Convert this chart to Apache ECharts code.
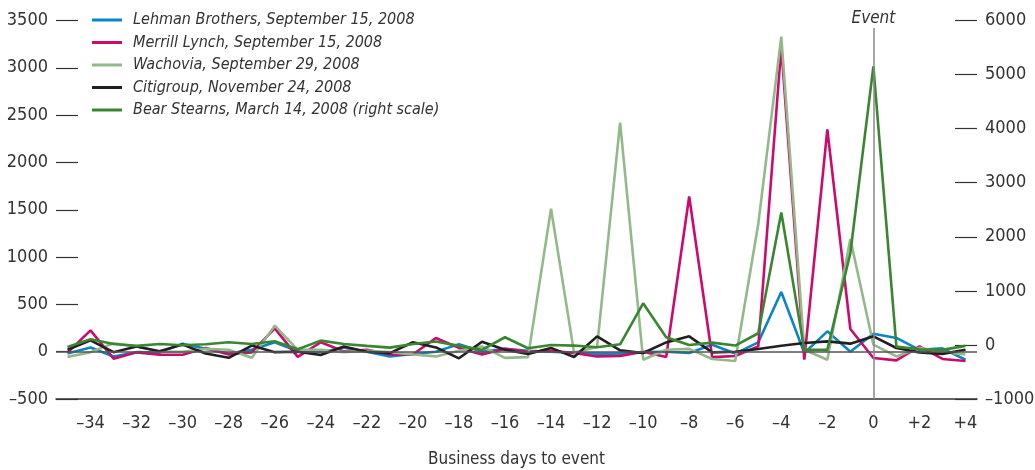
<!DOCTYPE html>
<html lang="en">
<head>
    <meta charset="UTF-8">
    <title>Business days to event</title>
    <style>
        html, body { margin: 0; padding: 0; background: #fff; }
        #main { width: 1035px; height: 470px; }
    </style>
</head>
<body>
<div id="main"></div>
<script src="https://cdn.jsdelivr.net/npm/echarts@6/dist/echarts.min.js"></script>
<script>
    // business days -35 .. +4
    var days = ['–35', '–34', '–33', '–32', '–31', '–30', '–29', '–28', '–27', '–26',
        '–25', '–24', '–23', '–22', '–21', '–20', '–19', '–18', '–17', '–16',
        '–15', '–14', '–13', '–12', '–11', '–10', '–9', '–8', '–7', '–6',
        '–5', '–4', '–3', '–2', '–1', '0', '+1', '+2', '+3', '+4'];

    var lehman = [-20, 45, -50, -5, -10, 85, 30, -20, 20, 100,
        5, -5, 45, 0, -50, -25, 0, 80, 0, 30,
        10, 0, -14, -20, -20, -5, 0, -14, 74, -20,
        98, 630, -14, 215, 0, 190, 145, 20, 35, -85];

    var merrill = [-10, 225, -75, -7, -32, -32, 40, -30, -7, 247,
        -55, 100, 3, 20, -30, -30, 145, 40, -30, 30,
        0, 10, -14, -50, -45, 0, -57, 1640, -57, -45,
        56, 3220, -85, 2350, 240, -67, -92, 56, -77, -98];

    var wachovia = [-55, -5, 90, 55, 0, 0, 30, 20, -65, 275,
        20, 20, -5, 10, -5, -30, -50, 10, 55, -65,
        -57, 1510, -10, 50, 2420, -85, 20, 30, -77, -98,
        1350, 3330, 20, -85, 1190, 74, -50, 40, 0, -30];

    var citigroup = [20, 120, -5, 55, 5, 75, -20, -65, 65, -5,
        0, -35, 55, 0, -15, 100, 45, -70, 105, 20,
        -25, 40, -57, 162, 14, -14, 98, 162, -7, 0,
        28, 63, 92, 109, 85, 162, 39, -7, -23, 20];

    // right scale
    var bearStearns = [-40, 105, 18, -18, 18, -6, 12, 50, 18, 68,
        -80, 80, 18, -18, -50, 18, 62, -18, -92, 142,
        -62, 0, -12, -43, 12, 770, 142, 0, 43, -12,
        216, 2450, -92, -92, 1700, 5150, -31, -80, -92, -18];

    var names = [
        'Lehman Brothers, September 15, 2008',
        'Merrill Lynch, September 15, 2008',
        'Wachovia, September 29, 2008',
        'Citigroup, November 24, 2008',
        'Bear Stearns, March 14, 2008 (right scale)'
    ];
    var colors = ['#0a86c8', '#cc0a6e', '#93b98a', '#231f20', '#3a8630'];

    var eventDay = '0';
    var eventTop = 3420;

    var font = "'Liberation Sans Narrow', 'Arial Narrow', 'DejaVu Sans Condensed', sans-serif";

    function fmt(v) {
        return v < 0 ? '–' + Math.abs(v) : String(v);
    }

    function lineSeries(i, data, yIndex) {
        return {
            name: names[i],
            type: 'line',
            data: data,
            yAxisIndex: yIndex,
            symbol: 'none',
            smooth: false,
            lineStyle: { color: colors[i], width: 2.6 },
            itemStyle: { color: colors[i] }
        };
    }

    var myChart = echarts.init(document.getElementById('main'));

    var series = [
        lineSeries(0, lehman, 0),
        lineSeries(1, merrill, 0),
        lineSeries(2, wachovia, 0),
        lineSeries(3, citigroup, 0),
        lineSeries(4, bearStearns, 1)
    ];
    // zero line and event line
    series[0].markLine = {
        silent: true,
        symbol: 'none',
        animation: false,
        data: [
            {
                yAxis: 0,
                lineStyle: { color: '#555', width: 1.5, type: 'solid' },
                label: { show: false }
            },
            [
                {
                    coord: [eventDay, eventTop],
                    lineStyle: { color: '#888', width: 1.5, type: 'solid' },
                    label: {
                        show: true,
                        position: 'start',
                        distance: 1,
                        formatter: 'Event',
                        fontFamily: font,
                        fontStyle: 'italic',
                        fontSize: 17,
                        color: '#333'
                    }
                },
                { coord: [eventDay, -500] }
            ]
        ]
    };

    var option = {
        animation: false,
        color: colors,
        textStyle: { fontFamily: font },
        legend: {
            orient: 'vertical',
            left: 87,
            top: 7,
            itemWidth: 30,
            itemHeight: 3,
            itemGap: 6.5,
            icon: 'rect',
            data: names,
            textStyle: {
                fontFamily: font,
                fontStyle: 'italic',
                fontSize: 16,
                color: '#333',
                padding: [0, 0, 0, 6]
            }
        },
        grid: {
            left: 56,
            right: 58,
            top: 20.5,
            bottom: 71,
            outerBoundsMode: 'none'
        },
        xAxis: {
            type: 'category',
            data: days,
            boundaryGap: true,
            name: 'Business days to event',
            nameLocation: 'middle',
            nameGap: 52,
            nameTextStyle: { fontFamily: font, fontSize: 17, color: '#333' },
            axisLine: { onZero: false, lineStyle: { color: '#333', width: 1.5 } },
            axisTick: {
                inside: true,
                length: 10,
                interval: 0,
                lineStyle: { color: '#333', width: 1.2 }
            },
            axisLabel: {
                interval: function (index) { return index % 2 === 1; },
                margin: 15,
                fontFamily: font,
                fontSize: 18,
                color: '#333'
            },
            splitLine: { show: false }
        },
        yAxis: [
            {
                type: 'value',
                min: -500,
                max: 3500,
                interval: 500,
                axisLine: { show: false },
                axisTick: {
                    show: true,
                    inside: true,
                    length: 22,
                    lineStyle: { color: '#333', width: 1.2 }
                },
                axisLabel: {
                    margin: 8,
                    fontFamily: font,
                    fontSize: 18,
                    color: '#333',
                    formatter: fmt
                },
                splitLine: { show: false }
            },
            {
                type: 'value',
                min: -1000,
                max: 6000,
                interval: 1000,
                position: 'right',
                axisLine: { show: false },
                axisTick: {
                    show: true,
                    inside: true,
                    length: 22,
                    lineStyle: { color: '#333', width: 1.2 }
                },
                axisLabel: {
                    margin: 8,
                    fontFamily: font,
                    fontSize: 18,
                    color: '#333',
                    formatter: fmt
                },
                splitLine: { show: false }
            }
        ],
        series: series
    };

    myChart.setOption(option);
</script>
</body>
</html>
